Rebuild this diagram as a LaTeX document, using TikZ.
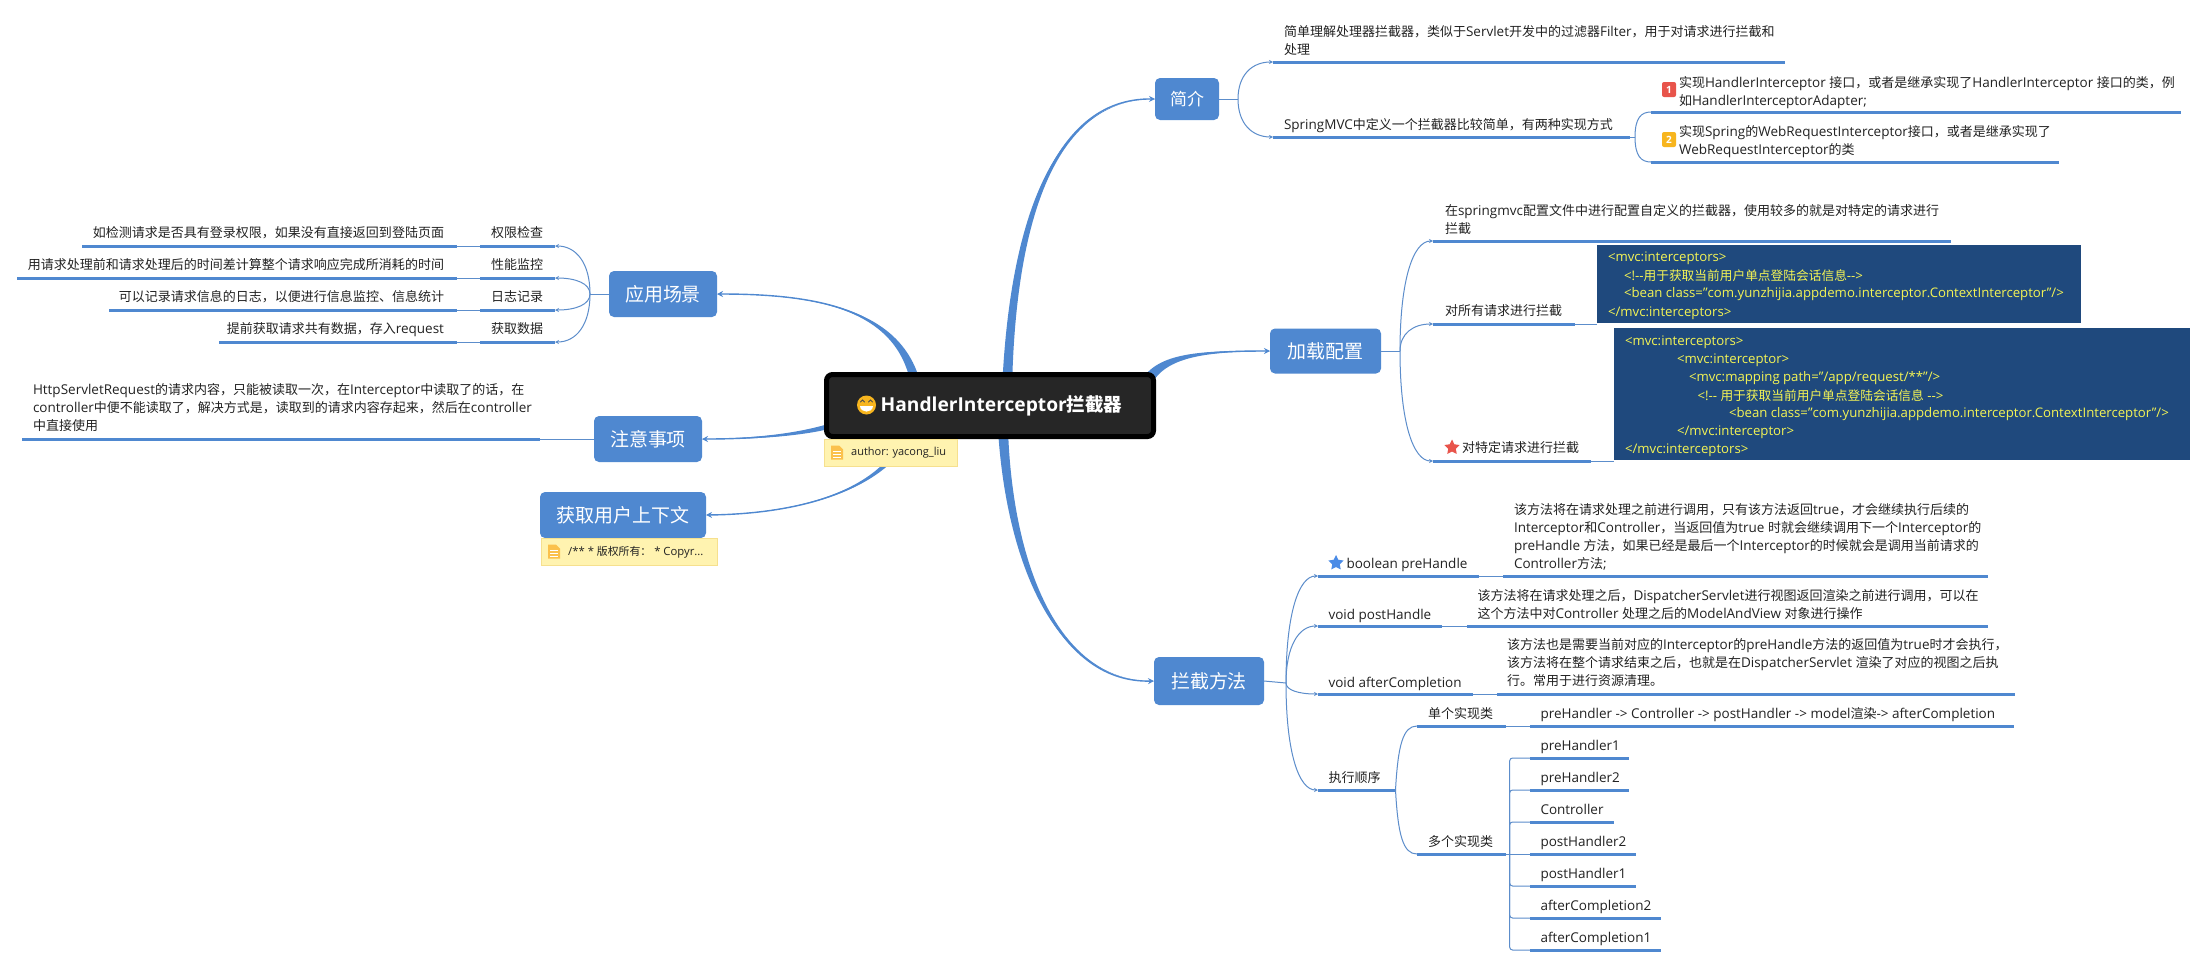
\documentclass[tikz,border=0pt]{standalone}
\usepackage{fontspec}
\setmainfont{Open Sans}
\newfontfamily\cjkf{Noto Sans CJK SC}[Scale=0.963]
\XeTeXinterchartokenstate=1
\newXeTeXintercharclass\cjkcl
\makeatletter
\count@="4E00 \loop \XeTeXcharclass\count@=\cjkcl \advance\count@ 1 \ifnum\count@<"A000 \repeat
\count@="3000 \loop \XeTeXcharclass\count@=\cjkcl \advance\count@ 1 \ifnum\count@<"3040 \repeat
\count@="FF00 \loop \XeTeXcharclass\count@=\cjkcl \advance\count@ 1 \ifnum\count@<"FFF0 \repeat
\makeatother
\XeTeXinterchartoks 0 \cjkcl = {\begingroup\cjkf}
\XeTeXinterchartoks 4095 \cjkcl = {\begingroup\cjkf}
\XeTeXinterchartoks \cjkcl 0 = {\endgroup}
\XeTeXinterchartoks \cjkcl 4095 = {\endgroup}
\usetikzlibrary{calc,arrows.meta,shapes.geometric,backgrounds}
\definecolor{mblue}{HTML}{4F88D0}
\definecolor{tline}{HTML}{5C8DCB}
\definecolor{codebg}{HTML}{1F497D}
\definecolor{codetx}{HTML}{F4F455}
\definecolor{notebg}{HTML}{FFF3B0}
\definecolor{noteln}{HTML}{F6E08E}
\definecolor{txtc}{HTML}{222222}
\definecolor{iconc}{HTML}{FBC14C}
\definecolor{redc}{HTML}{E8544B}
\definecolor{orgc}{HTML}{F7B51E}
\definecolor{starb}{HTML}{4A8BE6}
\tikzset{
  x=1pt,y=-1pt,
  ulbar/.style={fill=mblue,inner sep=0pt,outer sep=0pt,minimum height=3pt},
  lab/.style={inner sep=0pt,outer sep=0pt,align=left,text=txtc,yshift=-2pt,font=\fontsize{13.5}{18}\selectfont,execute at begin node=\strut,execute at end node=\strut},
  code/.style={inner sep=0pt,outer sep=0pt,align=left,text=codetx,font=\fontsize{13.2}{18}\selectfont,anchor=west},
  mainbox/.style={fill=mblue,rounded corners=5pt,inner sep=0pt,outer sep=0pt,text=white,font=\fontsize{19.7}{22}\selectfont},
  codebox/.style={fill=codebg,inner sep=0pt,outer sep=0pt},
  notebox/.style={fill=notebg,draw=noteln,line width=.8pt,inner sep=0pt,outer sep=0pt},
  thinl/.style={draw=tline,line width=1pt},
  forkl/.style={draw=tline,line width=1pt,-{Stealth[length=4pt,width=4pt]}},
  cstroke/.style={draw=mblue,line width=1.4pt,-{Stealth[length=6pt,width=6pt]}},
  badge/.style={rounded corners=2pt,inner sep=0pt,outer sep=0pt,text=white,minimum width=14pt,minimum height=15pt,font=\fontsize{10}{12}\selectfont\bfseries},
  starmark/.style={star,star points=5,star point ratio=2.0,inner sep=0pt,minimum size=16pt},
}
\newcommand{\ulb}[4]{\node[ulbar,minimum width={(#3-#2)*1pt}] (#1) at ({(#2+#3)/2},#4) {};}
\newcommand{\lbl}[4]{\node[lab,anchor=west] (#1) at (#2,#3) {#4};}
\newcommand{\lblr}[4]{\node[lab,anchor=east,align=right] (#1) at (#2,#3) {#4};}
\newcommand{\forkc}[2]{\draw[forkl] (#1) .. controls ($(#1)!0.65!(#1 |- #2.west)$) and ($(#2.west)!0.6!(#1 |- #2.west)$) .. (#2.west);}
\newcommand{\forkl}[2]{\draw[forkl] (#1) .. controls ($(#1)!0.65!(#1 |- #2.east)$) and ($(#2.east)!0.6!(#1 |- #2.east)$) .. (#2.east);}
\newcommand{\forkr}[2]{\draw[thinl,rounded corners=3pt] (#1) |- (#2.west);}
\newcommand{\taper}[6]{%
  \fill[mblue] ($(#1)+(#5)$) .. controls ($(#2)+#6*(#5)$) and ($(#3)+0.2*(#5)$) .. (#4)
     .. controls ($(#3)-0.2*(#5)$) and ($(#2)-#6*(#5)$) .. ($(#1)-(#5)$) -- cycle;
  \draw[cstroke] (#1) .. controls (#2) and (#3) .. (#4);}
\newcommand{\noteicon}[2]{%
  \fill[iconc] (#1,#2) -- ++(8,0) -- ++(4,4) -- ++(0,10) -- ++(-12,0) -- cycle;
  \draw[white,line width=.6pt] (#1+2,#2+6) -- ++(8,0) (#1+2,#2+9) -- ++(8,0) (#1+2,#2+12) -- ++(8,0);}
\begin{document}
\begin{tikzpicture}
\useasboundingbox (0,0) rectangle (2207,967);
% central topic
\node[draw=black,line width=5pt,fill=black!85,rounded corners=6pt,minimum width=327pt,minimum height=62pt,inner sep=0pt,text=white,font=\fontsize{19.2}{22}\selectfont\bfseries] (root) at (990,405.5) {\hspace{23pt}HandlerInterceptor拦截器};
\fill[orgc] (866.5,405) circle (9.5);
\fill[white] (860,406) -- (873,406) .. controls (872.5,413.5) and (860.5,413.5) .. (860,406) -- cycle;
\draw[black!70,line width=.9pt,line cap=round] (860.5,402) -- ++(2,-2) -- ++(2,2) (868.5,402) -- ++(2,-2) -- ++(2,2);
\node[notebox,minimum width=133pt,minimum height=27pt] (rootnote) at (890.5,452.5) {};
\noteicon{831}{445.5}
\node[inner sep=0pt,text=txtc,font=\fontsize{11}{14}\selectfont,anchor=west] (rootnotet) at (851,453) {author: yacong\_liu};
% main branches
\node[mainbox,minimum width=108pt,minimum height=46pt] (app) at (663,294) {应用场景};
\node[mainbox,minimum width=108pt,minimum height=46pt] (att) at (648,439) {注意事项};
\node[mainbox,minimum width=166pt,minimum height=46pt] (ctx) at (623,515) {获取用户上下文};
\node[notebox,minimum width=176pt,minimum height=27pt] (ctxnote) at (629,551.5) {};
\noteicon{548}{544.5}
\node[inner sep=0pt,text=txtc,font=\fontsize{11.3}{14}\selectfont,anchor=west] (ctxnotet) at (568,552) {/** * 版权所有：~* Copyr...};
\node[mainbox,minimum width=64pt,minimum height=42pt,font=\fontsize{17.6}{20}\selectfont] (intro) at (1187,99) {简介};
\node[mainbox,minimum width=111pt,minimum height=45pt] (cfg) at (1325.5,351) {加载配置};
\node[mainbox,minimum width=110pt,minimum height=48pt] (meth) at (1209,681) {拦截方法};
% 应用场景
\coordinate (fapp) at (590,294);
\ulb{a1}{480}{555}{246}\ulb{a2}{480}{555}{278}\ulb{a3}{480}{555}{310}\ulb{a4}{480}{555}{342}
\ulb{a1c}{82}{457}{246}\ulb{a2c}{17}{457}{278}\ulb{a3c}{109}{457}{310}\ulb{a4c}{219}{457}{342}
\lbl{a1t}{491}{232}{权限检查}\lbl{a2t}{491}{264}{性能监控}\lbl{a3t}{491}{296}{日志记录}\lbl{a4t}{491}{328}{获取数据}
\lblr{a1d}{444}{232}{如检测请求是否具有登录权限，如果没有直接返回到登陆页面}
\lblr{a2d}{444}{264}{用请求处理前和请求处理后的时间差计算整个请求响应完成所消耗的时间}
\lblr{a3d}{444}{296}{可以记录请求信息的日志，以便进行信息监控、信息统计}
\lblr{a4d}{444}{328}{提前获取请求共有数据，存入request}
\draw[thinl] (app.west) -- (fapp);
\forkl{fapp}{a1}\forkl{fapp}{a2}\forkl{fapp}{a3}\forkl{fapp}{a4}
\foreach \i in {1,2,3,4}{\draw[thinl] (a\i.west) -- (a\i c.east);}
% 注意事项
\ulb{n1}{22}{540}{439}
\lbl{n1t}{33}{408}{HttpServletRequest的请求内容，只能被读取一次，在Interceptor中读取了的话，在\\controller中便不能读取了，解决方式是，读取到的请求内容存起来，然后在controller\\中直接使用}
\draw[thinl] (att.west) -- (n1.east);
% 简介
\coordinate (fintro) at (1238,99);
\ulb{i1}{1273}{1785}{62}\ulb{i2}{1273}{1630}{137}
\lbl{i1t}{1284}{41}{简单理解处理器拦截器，类似于Servlet开发中的过滤器Filter，用于对请求进行拦截和\\处理}
\lbl{i2t}{1284}{124}{SpringMVC中定义一个拦截器比较简单，有两种实现方式}
\draw[thinl] (intro.east) -- (fintro);
\forkc{fintro}{i1}\forkc{fintro}{i2}
\ulb{i3}{1651}{2180.5}{112}\ulb{i4}{1651}{2059}{162}
\node[badge,fill=redc] (b1) at (1669,89.5) {1};
\node[badge,fill=orgc] (b2) at (1669,139.5) {2};
\lbl{i3t}{1679}{92}{实现HandlerInterceptor 接口，或者是继承实现了HandlerInterceptor 接口的类，例\\如HandlerInterceptorAdapter;}
\lbl{i4t}{1679}{141}{实现Spring的WebRequestInterceptor接口，或者是继承实现了\\WebRequestInterceptor的类}
\coordinate (fi2) at (1635,137);
\draw[thinl] (i2.east) -- (fi2);
\draw[thinl] (fi2) .. controls (1635,118) and (1641,112) .. (i3.west);
\draw[thinl] (fi2) .. controls (1635,156) and (1641,162) .. (i4.west);
% 加载配置
\coordinate (fcfg) at (1400,351);
\ulb{c1}{1433}{1951}{241}\ulb{c2}{1433}{1575}{324}\ulb{c3}{1433}{1591}{461}
\lbl{c1t}{1445}{220}{在springmvc配置文件中进行配置自定义的拦截器，使用较多的就是对特定的请求进行\\拦截}
\lbl{c2t}{1445}{310}{对所有请求进行拦截}
\node[starmark,fill=redc] (c3s) at (1452,447.5) {};
\lbl{c3t}{1462}{447}{对特定请求进行拦截}
\draw[thinl] (cfg.east) -- (fcfg);
\forkc{fcfg}{c1}\forkc{fcfg}{c2}\forkc{fcfg}{c3}
\node[codebox,minimum width=484pt,minimum height=78pt] (cb1) at (1839,284) {};
\node[codebox,minimum width=576pt,minimum height=132pt] (cb2) at (1902,394) {};
\node[code] (cb1a) at (1608,258) {<mvc:interceptors>};
\node[code] (cb1b) at (1624,276) {<!-{}-用于获取当前用户单点登陆会话信息-{}->};
\node[code] (cb1c) at (1624,294) {<bean class="com.yunzhijia.appdemo.interceptor.ContextInterceptor"/>};
\node[code] (cb1d) at (1608,313) {</mvc:interceptors>};
\node[code] (cb2a) at (1625,342) {<mvc:interceptors>};
\node[code] (cb2b) at (1677,360) {<mvc:interceptor>};
\node[code] (cb2c) at (1689,378) {<mvc:mapping path="/app/request/**"/>};
\node[code] (cb2d) at (1697.5,396) {<!-{}- 用于获取当前用户单点登陆会话信息 -{}->};
\node[code] (cb2e) at (1729,414) {<bean class="com.yunzhijia.appdemo.interceptor.ContextInterceptor"/>};
\node[code] (cb2f) at (1677,432) {</mvc:interceptor>};
\node[code] (cb2g) at (1625,450) {</mvc:interceptors>};
\draw[thinl] (c2.east) -- (c2.east -| cb1.west);
\draw[thinl] (c3.east) -- (c3.east -| cb2.west);
% 拦截方法
\coordinate (fmeth) at (1286,683);
\ulb{m1}{1318}{1479}{576}\ulb{m2}{1318}{1442}{626}\ulb{m3}{1318}{1472.5}{694}\ulb{m4}{1318}{1395.5}{790}
\ulb{m1c}{1503}{1988}{576}\ulb{m2c}{1467}{1988}{626}\ulb{m3c}{1497}{2015}{694}
\node[starmark,fill=starb] (m1s) at (1336,563) {};
\lbl{m1t}{1346.5}{563}{boolean preHandle}
\lbl{m2t}{1328.5}{614}{void postHandle}
\lbl{m3t}{1328.5}{682}{void afterCompletion}
\lbl{m4t}{1328.5}{777}{执行顺序}
\lbl{m1d}{1514}{537}{该方法将在请求处理之前进行调用，只有该方法返回true，才会继续执行后续的\\Interceptor和Controller，当返回值为true 时就会继续调用下一个Interceptor的\\preHandle 方法，如果已经是最后一个Interceptor的时候就会是调用当前请求的\\Controller方法;}
\lbl{m2d}{1477.5}{605}{该方法将在请求处理之后，DispatcherServlet进行视图返回渲染之前进行调用，可以在\\这个方法中对Controller 处理之后的ModelAndView 对象进行操作}
\lbl{m3d}{1507}{663}{该方法也是需要当前对应的Interceptor的preHandle方法的返回值为true时才会执行，\\该方法将在整个请求结束之后，也就是在DispatcherServlet 渲染了对应的视图之后执\\行。常用于进行资源清理。}
\draw[thinl] (meth.east) -- (fmeth);
\forkc{fmeth}{m1}\forkc{fmeth}{m2}\forkc{fmeth}{m3}\forkc{fmeth}{m4}
\draw[thinl] (m1.east) -- (m1c.west);
\draw[thinl] (m2.east) -- (m2c.west);
\draw[thinl] (m3.east) -- (m3c.west);
% 执行顺序
\ulb{s1}{1417}{1505.5}{726}\ulb{s2}{1417}{1505.5}{854}
\ulb{s1c}{1530}{2014}{726}
\lbl{s1t}{1428}{713}{单个实现类}
\lbl{s2t}{1428}{841}{多个实现类}
\lbl{s1d}{1540.5}{713}{preHandler -> Controller -> postHandler -> model渲染-> afterCompletion}
\draw[thinl] (m4.east) .. controls (1398,745) and (1403,726) .. (s1.west);
\draw[thinl] (m4.east) .. controls (1398,835) and (1403,854) .. (s2.west);
\draw[thinl] (s1.east) -- (s1c.west);
\ulb{p1}{1530}{1628.5}{758}\ulb{p2}{1530}{1628.5}{790}\ulb{p3}{1530}{1613.5}{822}\ulb{p4}{1530}{1636}{854}\ulb{p5}{1530}{1636}{886}\ulb{p6}{1530}{1661}{918}\ulb{p7}{1530}{1661}{950}
\lbl{p1t}{1540.5}{745}{preHandler1}
\lbl{p2t}{1540.5}{777}{preHandler2}
\lbl{p3t}{1540.5}{809}{Controller}
\lbl{p4t}{1540.5}{841}{postHandler2}
\lbl{p5t}{1540.5}{873}{postHandler1}
\lbl{p6t}{1540.5}{905}{afterCompletion2}
\lbl{p7t}{1540.5}{937}{afterCompletion1}
\coordinate (fs2) at (1509.6,854);
\draw[thinl] (s2.east) -- (p4.west);
\foreach \i in {1,2,3,5,6,7}{\forkr{fs2}{p\i}}
% tapered connectors, behind everything
\begin{scope}[on background layer]
\fill[white] (0,0) rectangle (2207,967);
\coordinate (r1) at (916,385);
\coordinate (r2) at (860,415);
\coordinate (r3) at (905,440);
\coordinate (r4) at (1007,390);
\coordinate (r5) at (1145,385);
\coordinate (r6) at (1003,430);
\taper{r1}{900,310}{820,294}{app.east}{5,0}{0.6}
\taper{r2}{830,430}{780,439}{att.east}{0,4}{0.6}
\taper{r3}{875,495}{790,514}{ctx.east}{4,0}{0.6}
\taper{r4}{1012,230}{1050,98}{intro.west}{5,0}{0.6}
\taper{r5}{1160,355}{1200,351}{cfg.west}{4,4}{0.6}
\taper{r6}{1010,570}{1060,683}{meth.west}{5,0}{0.6}
\end{scope}
\end{tikzpicture}
\end{document}
